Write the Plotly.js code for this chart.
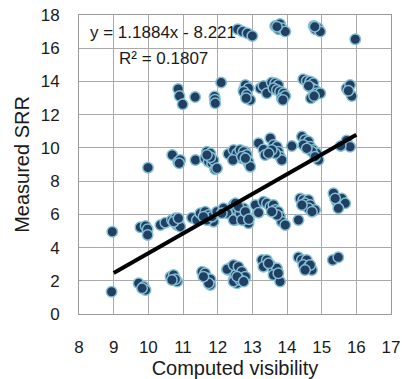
<!DOCTYPE html>
<html>
<head>
<meta charset="utf-8">
<script src="https://cdn.plot.ly/plotly-3.0.1.min.js"></script>
<style>html,body{margin:0;padding:0;background:#fff;}#chart{width:402px;height:379px;}</style>
</head>
<body>
<div id="chart"></div>
<script>
// Computed visibility (x) and Measured SRR (y)
var visX = [
 // ~17 row
 12.58,12.72,12.86,13.0, 13.66,13.8,13.76,13.85,13.95,13.71, 14.77,14.82,14.9,14.96,14.8, 15.97,
 // ~13.5 row
 10.86,10.9,10.99, 11.35, 11.91,11.92,11.93, 12.1, 12.75,12.84,12.8,
 12.8,12.89,12.75,12.84,12.94,12.82, 13.23,13.32,13.42,
 13.56,13.66,13.75,13.61,13.71,13.8,13.9,13.85,13.95,13.88,
 14.47,14.57,14.67,14.76,14.72,14.81,14.86,14.96,14.69,14.78,14.62,
 15.72,15.82,15.87,15.77,
 // ~10 row
 9.99, 10.69,10.86,10.92,10.89, 11.36,
 11.69,11.79,11.64,11.74,11.84,11.93,11.88,11.79,11.69,11.98,
 12.31,12.46,12.56,12.65,12.75,12.7,12.84,12.89,12.44,12.8,
 12.75,12.84,12.7,12.89,12.94,12.8,
 13.18,13.32,13.37,13.52,13.61,13.71,13.75,13.8,13.85,13.66,13.56,13.47,
 14.14,
 14.43,14.52,14.62,14.47,14.67,14.76,14.86,14.72,14.91,14.81,14.57,
 15.72,15.82,15.55,
 // ~6 row
 8.96, 9.77,9.92,9.98,9.98, 10.35,10.49,
 10.68,10.78,10.87,10.83,10.78,10.92,10.73,10.87,
 11.26,11.4,
 11.5,11.64,11.74,11.79,11.88,11.69,11.84,11.59,
 11.98,12.17,12.27,12.46,12.56,12.51,12.12,
 12.51,12.56,12.46,12.65,12.75,12.85,12.89,12.7,12.6,12.8,12.9,
 13.09,13.18,13.32,13.42,13.52,13.61,13.66,13.75,13.8,13.85,13.95,13.71,13.56,
 14.33,
 14.38,14.47,14.62,14.52,14.67,14.81,14.62,14.72,14.43,
 15.34,15.44,15.58,15.68,15.48,15.39,
 // ~2 row
 8.94, 9.72,9.87,9.92,9.82,
 10.64,10.73,10.83,10.78,10.68,
 11.55,11.64,11.69,11.79,11.79,11.74,11.59,
 12.31,12.41,12.56,12.6,12.46,12.56,12.51,
 12.27,12.46,12.6,12.7,12.8,12.46,12.65,12.56,12.75,
 13.28,13.42,13.32,13.52,13.61,13.71,13.61,13.8,13.47,13.75,
 14.33,14.43,14.57,14.47,14.62,14.72,14.67,14.52,
 15.32,15.48
];
var srrY = [
 17.14,17.0,16.9,16.74, 17.34,17.46,17.14,17.2,17.0,17.3, 17.34,17.14,17.2,17.0,17.3, 16.54,
 13.55,13.12,12.62, 13.06, 13.1,12.9,12.68, 13.93, 13.49,13.69,13.29,
 13.79,13.59,13.38,13.18,12.88,12.99, 13.59,13.73,13.29,
 13.93,13.89,13.79,13.59,13.49,13.38,13.29,12.99,13.12,12.88,
 14.13,14.03,13.99,13.89,13.59,13.49,13.29,13.29,12.99,13.12,13.73,
 13.59,13.79,13.12,13.44,
 8.81, 9.57,9.17,9.27,9.07, 9.27,
 9.77,9.67,9.37,9.17,9.07,8.71,9.27,9.43,9.57,8.77,
 9.63,9.87,9.67,9.87,9.57,9.37,9.27,9.07,9.27,9.77,
 9.77,9.57,9.47,9.17,8.87,9.37,
 10.28,9.91,9.57,10.58,10.18,10.07,9.77,9.47,9.27,9.67,9.87,9.67,
 10.11,
 10.68,10.48,10.38,10.18,10.07,9.87,9.67,9.77,9.27,9.47,9.97,
 10.45,10.07,10.12,
 4.95, 5.22,5.3,5.1,4.76, 5.36,5.5,
 5.66,5.76,5.56,5.36,5.5,5.26,5.56,5.76,
 5.8,5.66,
 6.06,6.16,5.96,5.76,5.56,5.66,5.86,5.86,
 6.16,6.36,6.06,6.56,6.46,5.66,6.06,
 6.66,6.26,5.66,6.06,6.36,5.86,5.46,5.66,6.46,6.16,5.7,
 6.56,6.1,6.76,6.66,6.46,6.56,6.26,6.16,5.86,5.56,5.36,5.96,6.16,
 5.66,
 6.96,6.86,6.86,6.66,6.56,6.26,6.36,6.16,6.56,
 7.27,6.76,6.96,6.66,6.36,6.96,
 1.34, 1.85,1.64,1.44,1.55,
 2.25,2.35,1.95,2.09,2.05,
 2.55,2.45,2.15,2.09,1.75,1.85,2.25,
 2.65,2.85,2.75,2.45,2.05,1.85,2.35,
 2.69,2.95,2.85,2.55,2.25,1.95,2.05,2.25,1.95,
 3.25,3.25,2.85,2.95,2.65,2.75,2.35,1.95,3.05,2.45,
 3.41,3.25,3.25,2.95,2.85,2.65,2.95,2.65,
 3.25,3.41
];
// Linear trendline end points (y = 1.1884x - 8.221)
var trendX = [9, 16];
var trendY = [2.47, 10.79];
var xTicks = [8,9,10,11,12,13,14,15,16,17];
var yTicks = [0,2,4,6,8,10,12,14,16,18];
var eqText = 'y = 1.1884x - 8.221';
var r2Text = 'R² = 0.1807';

var FONT = 'Liberation Sans, Arial, sans-serif';
var GRID = '#aaaaaa';

var traces = [
 {x: visX, y: srrY, type: 'scatter', mode: 'markers', hoverinfo: 'skip',
  marker: {size: 10.5, color: '#213f60', line: {color: '#84bfd6', width: 1.5}}},
 {x: trendX, y: trendY, type: 'scatter', mode: 'lines', hoverinfo: 'skip',
  line: {color: '#000000', width: 4}}
];

var layout = {
 width: 402, height: 379,
 margin: {l: 78.5, r: 11, t: 15, b: 65},
 paper_bgcolor: '#ffffff', plot_bgcolor: '#ffffff',
 showlegend: false,
 font: {family: FONT, color: '#1a1a1a'},
 xaxis: {
  range: [8, 17], tickvals: xTicks, ticktext: xTicks.map(String),
  showgrid: true, gridcolor: GRID, gridwidth: 1,
  showline: true, linecolor: '#9a9a9a', linewidth: 1, mirror: true,
  zeroline: false, ticks: 'outside', ticklen: 18, tickcolor: 'rgba(0,0,0,0)',
  tickfont: {size: 17, family: FONT, color: '#1a1a1a'},
  title: {text: 'Computed visibility', font: {size: 20, family: FONT, color: '#1a1a1a'}, standoff: 3},
  fixedrange: true
 },
 yaxis: {
  range: [0, 18], tickvals: yTicks, ticktext: yTicks.map(String),
  showgrid: true, gridcolor: GRID, gridwidth: 1,
  showline: true, linecolor: '#9a9a9a', linewidth: 1, mirror: true,
  zeroline: false, ticks: 'outside', ticklen: 15, tickcolor: 'rgba(0,0,0,0)',
  tickfont: {size: 17, family: FONT, color: '#1a1a1a'},
  title: {text: 'Measured SRR', font: {size: 20, family: FONT, color: '#1a1a1a'}, standoff: 5},
  fixedrange: true
 },
 annotations: [
  {x: 10.43, y: 16.92, xref: 'x', yref: 'y', text: eqText, showarrow: false,
   xanchor: 'center', yanchor: 'middle', font: {size: 17, family: FONT, color: '#1a1a1a'}},
  {x: 10.43, y: 15.41, xref: 'x', yref: 'y', text: r2Text, showarrow: false,
   xanchor: 'center', yanchor: 'middle', font: {size: 17, family: FONT, color: '#1a1a1a'}}
 ]
};

Plotly.newPlot('chart', traces, layout, {displayModeBar: false, staticPlot: true});
</script>
</body>
</html>
